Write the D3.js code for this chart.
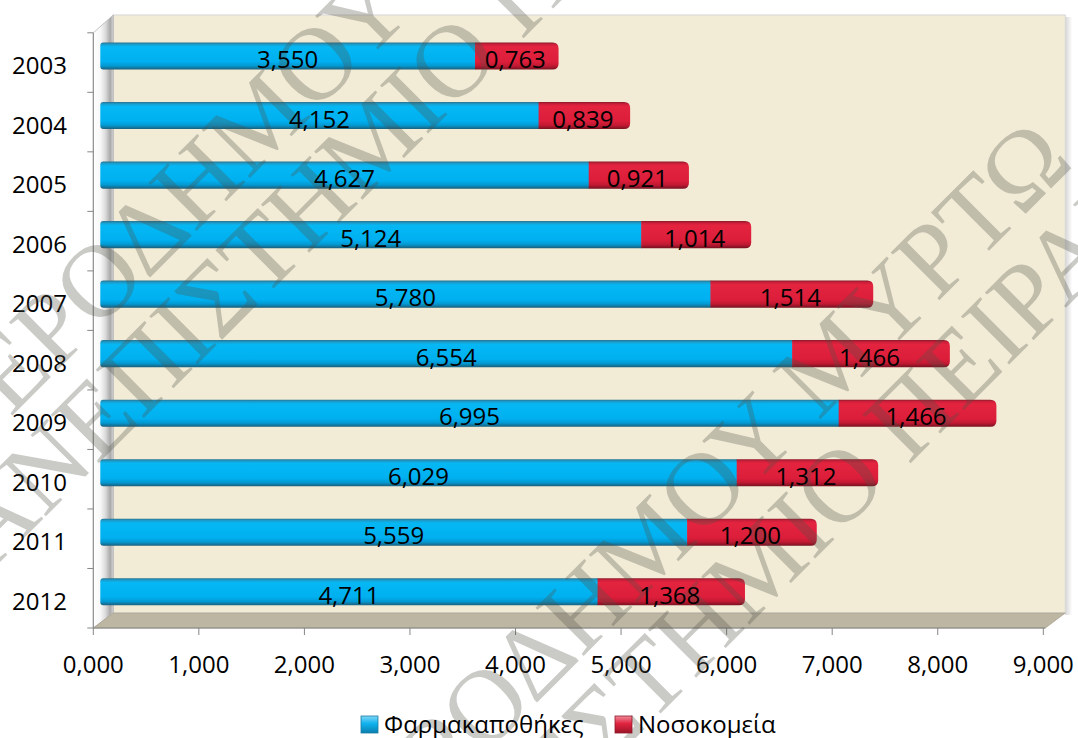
<!DOCTYPE html>
<html>
<head>
<meta charset="utf-8">
<script src="https://cdn.jsdelivr.net/npm/d3@7"></script>
<style>
  body { margin: 0; background: #ffffff; }
  svg { display: block; }
  text { font-family: "Open Sans", "Noto Sans", sans-serif; fill: #000; }
  text.wm { font-family: "Liberation Serif", "DejaVu Serif", serif; fill: rgba(80,78,70,0.30); }
</style>
</head>
<body>
<svg id="chart" width="1078" height="738"></svg>
<script>
// ---- data ----
const years = ["2003", "2004", "2005", "2006", "2007", "2008", "2009", "2010", "2011", "2012"];
const pharmacies = [3.550, 4.152, 4.627, 5.124, 5.780, 6.554, 6.995, 6.029, 5.559, 4.711];
const hospitals  = [0.763, 0.839, 0.921, 1.014, 1.514, 1.466, 1.466, 1.312, 1.200, 1.368];
const seriesNames = ["Φαρμακαποθήκες", "Νοσοκομεία"];
const xTicks = [0, 1, 2, 3, 4, 5, 6, 7, 8, 9];
const watermarkLines = ["ΓΕΡΟΔΗΜΟΥ ΜΥΡΤΩ", "ΠΑΝΕΠΙΣΤΗΜΙΟ ΠΕΙΡΑΙΩΣ"];

// ---- layout ----
const plot = { left: 93.3, right: 1043.3, top: 32.8, bottom: 628 };
const depth = { dx: 20, dy: -15 };       // oblique offset of the back wall
const barShift = { dx: 7, dy: -6.5 };    // bars sit slightly behind the front plane

const svg = d3.select("#chart");
const x = d3.scaleLinear().domain([0, 9]).range([plot.left, plot.right]);
const y = d3.scaleBand().domain(years).range([plot.top, plot.bottom]);
const barH = y.bandwidth() * 0.455;

const grLocale = d3.formatLocale({ decimal: ",", thousands: ".", grouping: [3], currency: ["", "€"] });
const fmt = grLocale.format(".3f");

// ---- gradients ----
const defs = svg.append("defs");
function vGrad(id, stops) {
  const g = defs.append("linearGradient").attr("id", id)
    .attr("x1", 0).attr("y1", 0).attr("x2", 0).attr("y2", 1);
  stops.forEach(([o, c]) => g.append("stop").attr("offset", o).attr("stop-color", c));
}
vGrad("gBlue", [[0, "#27738f"], [0.07, "#1b9ccc"], [0.16, "#05b8f4"], [0.7, "#00b0f0"], [0.86, "#0399d2"], [1, "#1b5f7b"]]);
vGrad("gRed",  [[0, "#8c1a2a"], [0.07, "#cc1f3a"], [0.16, "#e4243f"], [0.7, "#dc1e3b"], [0.86, "#c21932"], [1, "#761221"]]);
vGrad("gLegBlue", [[0, "#7fd6f6"], [0.45, "#0fb2ee"], [1, "#0a7fb0"]]);
vGrad("gLegRed",  [[0, "#f08a9a"], [0.45, "#e0233f"], [1, "#9c1528"]]);
const wallGrad = defs.append("linearGradient").attr("id", "gWall")
  .attr("gradientUnits", "userSpaceOnUse")
  .attr("x1", plot.left).attr("y1", 0).attr("x2", plot.left + depth.dx).attr("y2", 0);
[[0, "#ffffff"], [0.35, "#f8f8f8"], [0.6, "#dcdcdc"], [0.85, "#a9a9a9"], [1, "#d6d6d6"]]
  .forEach(([o, c]) => wallGrad.append("stop").attr("offset", o).attr("stop-color", c));
const shadowGrad = defs.append("linearGradient").attr("id", "gShadow")
  .attr("x1", 0).attr("y1", 0).attr("x2", 1).attr("y2", 0);
shadowGrad.append("stop").attr("offset", 0).attr("stop-color", "#000").attr("stop-opacity", 0.16);
shadowGrad.append("stop").attr("offset", 1).attr("stop-color", "#000").attr("stop-opacity", 0);

// ---- 3D frame: back wall, side wall, floor ----
const backL = x(0) + depth.dx, backR = x(9) + depth.dx + 2;
const backT = 15, backB = plot.bottom + depth.dy;

svg.append("rect").attr("x", backR).attr("y", backT + 2).attr("width", 7).attr("height", backB - backT)
  .attr("fill", "url(#gShadow)");
svg.append("rect").attr("x", backL).attr("y", backT).attr("width", backR - backL).attr("height", backB - backT)
  .attr("fill", "#f2ecd7").attr("stroke", "#d6d6d6").attr("stroke-width", 1);

svg.append("path")
  .attr("d", `M${plot.left},${plot.top}L${backL},${backT}L${backL},${backB}L${plot.left},${plot.bottom}Z`)
  .attr("fill", "url(#gWall)").attr("stroke", "#b4b4b4").attr("stroke-width", 0.8);

svg.append("path")
  .attr("d", `M${plot.left},${plot.bottom}L${backL},${backB}L${backR},${backB}L${x(9) + 2},${plot.bottom}Z`)
  .attr("fill", "#bdb6a3").attr("stroke", "#aaa392").attr("stroke-width", 0.8);

// ---- axes ----
const axisColor = "#868686";
const yAxis = svg.append("g");
yAxis.append("line").attr("x1", plot.left).attr("x2", plot.left)
  .attr("y1", plot.top).attr("y2", plot.bottom).attr("stroke", axisColor);
const yTickPos = years.map(d => y(d)).concat([plot.bottom]);
yAxis.selectAll("line.tick").data(yTickPos).join("line").attr("class", "tick")
  .attr("x1", plot.left - 6).attr("x2", plot.left).attr("y1", d => d).attr("y2", d => d)
  .attr("stroke", axisColor);
yAxis.selectAll("text").data(years).join("text")
  .attr("x", 67).attr("y", d => y(d) + y.bandwidth() / 2 + 11.5)
  .attr("text-anchor", "end").attr("font-size", 24).text(d => d);

const xAxis = svg.append("g");
xAxis.append("line").attr("x1", plot.left).attr("x2", x(9) + 2)
  .attr("y1", plot.bottom).attr("y2", plot.bottom).attr("stroke", axisColor);
xAxis.selectAll("line.tick").data(xTicks).join("line").attr("class", "tick")
  .attr("x1", d => x(d)).attr("x2", d => x(d)).attr("y1", plot.bottom).attr("y2", plot.bottom + 7)
  .attr("stroke", axisColor);
xAxis.selectAll("text").data(xTicks).join("text")
  .attr("x", d => x(d)).attr("y", 673).attr("text-anchor", "middle").attr("font-size", 24)
  .text(d => fmt(d));

// ---- stacked bars ----
function seg(x0, y0, x1, y1, rl, rr) {
  return `M${x0 + rl},${y0}H${x1 - rr}` +
    (rr ? `Q${x1},${y0} ${x1},${y0 + rr}V${y1 - rr}Q${x1},${y1} ${x1 - rr},${y1}` : `V${y1}`) +
    `H${x0 + rl}` +
    (rl ? `Q${x0},${y1} ${x0},${y1 - rl}V${y0 + rl}Q${x0},${y0} ${x0 + rl},${y0}` : `V${y0}`) + "Z";
}
const rows = years.map((yr, i) => ({ yr, p: pharmacies[i], h: hospitals[i] }));
const capExtra = 3;
const barsG = svg.append("g");
rows.forEach(r => {
  const cy = y(r.yr) + y.bandwidth() / 2 + barShift.dy;
  const y0 = cy - barH / 2, y1 = cy + barH / 2;
  const xa = x(0) + barShift.dx, xb = x(r.p) + barShift.dx, xc = x(r.p + r.h) + barShift.dx + capExtra;
  barsG.append("path").attr("d", seg(xa, y0, xb + 0.5, y1, 3, 0)).attr("fill", "url(#gBlue)");
  barsG.append("path").attr("d", seg(xb, y0, xc, y1, 0, 6)).attr("fill", "url(#gRed)");
  r.cy = cy;
});

// ---- watermark ----
const wmG = svg.append("g").attr("pointer-events", "none");
const wmSize = 104;
[[304, 75], [691, 500]].forEach(([ox, oy]) => {
  const g = wmG.append("g").attr("transform", `translate(${ox},${oy}) rotate(-45)`);
  watermarkLines.forEach((t, k) => {
    g.append("text").attr("class", "wm")
      .attr("x", 0).attr("y", k * 95 + wmSize * 0.33)
      .attr("text-anchor", "middle")
      .attr("font-size", wmSize)
      .text(t);
  });
});

// ---- value labels ----
const labelsG = svg.append("g");
rows.forEach(r => {
  labelsG.append("text").attr("x", x(r.p / 2) + barShift.dx).attr("y", r.cy + 12)
    .attr("text-anchor", "middle").attr("font-size", 24).text(fmt(r.p));
  labelsG.append("text").attr("x", x(r.p + r.h / 2) + barShift.dx).attr("y", r.cy + 12)
    .attr("text-anchor", "middle").attr("font-size", 24).text(fmt(r.h));
});

// ---- legend ----
const legend = svg.append("g");
const legendItems = [
  { name: seriesNames[0], fill: "url(#gLegBlue)", stroke: "#1b7aa0", x: 361 },
  { name: seriesNames[1], fill: "url(#gLegRed)", stroke: "#8c1a2a", x: 615 }
];
legendItems.forEach(it => {
  legend.append("rect").attr("x", it.x).attr("y", 716).attr("width", 17).attr("height", 17)
    .attr("fill", it.fill).attr("stroke", it.stroke).attr("stroke-width", 0.8);
  legend.append("text").attr("x", it.x + 23).attr("y", 733).attr("font-size", 24).text(it.name);
});
</script>
</body>
</html>
